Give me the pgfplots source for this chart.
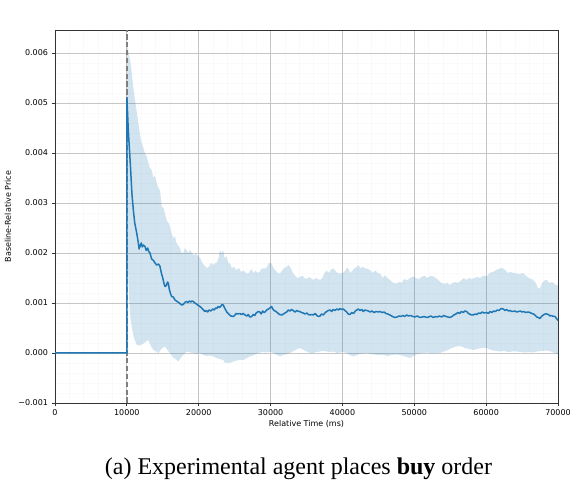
\documentclass[border=0pt]{standalone}
\usepackage{fontspec}
\setmainfont{Liberation Serif}
\newfontfamily\axisfont{DejaVu Sans}
\usepackage{pgfplots}
\pgfplotsset{compat=1.18}
\usepgfplotslibrary{fillbetween}

\definecolor{tabblue}{HTML}{1F77B4}
\definecolor{gridgray}{HTML}{C6C6C6}
\definecolor{markgray}{HTML}{7F7F7F}

\begin{document}
\begin{tikzpicture}
\begin{axis}[
    at={(0,0)}, anchor=south west,
    scale only axis,
    width=503pt, height=373pt,
    xmin=0, xmax=70000,
    ymin=-0.001, ymax=0.00646,
    xtick={0,10000,20000,30000,40000,50000,60000,70000},
    xticklabels={0,10000,20000,30000,40000,50000,60000,70000},
    ytick={-0.001,0,0.001,0.002,0.003,0.004,0.005,0.006},
    yticklabels={−0.001,0.000,0.001,0.002,0.003,0.004,0.005,0.006},
    minor x tick num=4, minor y tick num=4,
    scaled ticks=false,
    tick align=outside,
    xtick pos=bottom, ytick pos=left,
    major tick length=3.5pt, minor tick length=0pt,
    tick style={color=black!80, line width=0.8pt},
    axis line style={color=black!80, line width=0.8pt},
    grid=both,
    major grid style={color=gridgray, line width=0.9pt},
    minor grid style={color=black, draw opacity=0.02, line width=0.5pt},
    axis on top=false,
    /pgf/number format/assume math mode=true,
    tick label style={font=\axisfont\fontsize{8}{9}\selectfont},
    xlabel={Relative Time (ms)},
    ylabel={Baseline-Relative Price},
    every axis x label/.style={at={(axis description cs:0.5,-0.0563)},anchor=center,font=\axisfont\fontsize{8}{9}\selectfont},
    every axis y label/.style={at={(axis description cs:-0.0935,0.5)},rotate=90,anchor=center,font=\axisfont\fontsize{8}{9}\selectfont},
]

% upper edge of the band
\addplot[draw=none, name path=upper, forget plot] coordinates {
(10000,0.0062) (10150,0.0061) (10300,0.00595) (10450,0.00585) (10600,0.0057)
(10750,0.0055) (10900,0.0053) (11100,0.0051) (11300,0.0049) (11500,0.0047)
(11700,0.0045) (11900,0.0043) (12060,0.0042) (12300,0.0041) (12500,0.0040)
(12760,0.00393) (13000,0.0038) (13200,0.0037) (13450,0.00366) (13700,0.0035)
(13900,0.00355) (14150,0.0034) (14400,0.0033) (14610,0.00326) (14850,0.00293)
(15100,0.0029) (15300,0.0028) (15540,0.00265) (15800,0.0026) (16000,0.00253)
(16200,0.0024) (16460,0.0023) (16700,0.00233) (16900,0.0022) (17150,0.00215)
(17390,0.0021) (17630,0.0020) (17860,0.0020) (18100,0.0021) (18300,0.00205)
(18550,0.0020) (18790,0.00206) (19050,0.0020) (19300,0.00195) (19550,0.00198)
(19950,0.00194) (20200,0.0019) (20500,0.0018) (20800,0.00175) (21110,0.0017)
(21400,0.00172) (21700,0.0018) (22030,0.00176) (22300,0.0018) (22500,0.0018)
(22750,0.0019) (22960,0.00205) (23200,0.0020) (23420,0.00205) (23600,0.0019)
(23890,0.00193) (24100,0.0018) (24350,0.00179) (24600,0.0017) (24900,0.00172)
(25280,0.00166) (25600,0.0017) (25900,0.00162) (26200,0.00165) (26670,0.00159)
(27000,0.0016) (27300,0.00168) (27600,0.0016) (27900,0.00164) (28200,0.0016)
(28530,0.00163) (28800,0.0017) (29100,0.00168) (29500,0.00172) (29800,0.0018)
(30150,0.00179) (30400,0.0017) (30700,0.00165) (31000,0.0016) (31310,0.00159)
(31600,0.00165) (31900,0.0017) (32200,0.00172) (32470,0.00176) (32800,0.0017)
(33100,0.0016) (33400,0.00155) (33700,0.0015) (34090,0.00152) (34400,0.00155)
(34700,0.0015) (35000,0.00148) (35400,0.00152) (35950,0.00146) (36300,0.0015)
(36600,0.00148) (36880,0.00146) (37200,0.0015) (37500,0.0016) (37800,0.00165)
(38100,0.0016) (38500,0.00168) (38730,0.00169) (39000,0.00165) (39300,0.0016)
(39660,0.00159) (40000,0.0016) (40300,0.00163) (40600,0.0017) (40820,0.00169)
(41100,0.0016) (41400,0.00165) (41700,0.0017) (42000,0.00172) (42210,0.00176)
(42500,0.0017) (42800,0.00172) (43100,0.0017) (43500,0.00168) (43840,0.00166)
(44200,0.0016) (44600,0.00165) (44900,0.0016) (45230,0.00159) (45600,0.0015)
(45900,0.00155) (46300,0.0015) (46700,0.00145) (47100,0.0014) (47550,0.00139)
(47900,0.00142) (48200,0.0014) (48600,0.00148) (49000,0.00145) (49400,0.0015)
(49860,0.00153) (50200,0.0015) (50600,0.00148) (51000,0.00152) (51400,0.00155)
(51800,0.0015) (52200,0.00154) (52650,0.00153) (53000,0.0015) (53400,0.00145)
(53800,0.0014) (54200,0.00138) (54600,0.0014) (54970,0.00136) (55300,0.0014)
(55700,0.00142) (56100,0.0014) (56500,0.00145) (56900,0.0015) (57280,0.00146)
(57600,0.0015) (58000,0.00148) (58400,0.0015) (58800,0.00152) (59200,0.0015)
(59600,0.00155) (60070,0.00153) (60500,0.0016) (60900,0.00162) (61300,0.00165)
(61700,0.00168) (62100,0.0017) (62390,0.00169) (62700,0.00165) (63000,0.0016)
(63400,0.00162) (63800,0.0016) (64240,0.00159) (64700,0.00158) (65100,0.0016)
(65500,0.00155) (65900,0.0015) (66300,0.00148) (66560,0.00146) (66900,0.0014)
(67200,0.0013) (67490,0.00129) (67800,0.0014) (68100,0.00145) (68420,0.00146)
(68800,0.0014) (69200,0.00142) (69500,0.00138) (69820,0.00136) (70000,0.00134)
};

% lower edge of the band
\addplot[draw=none, name path=lower, forget plot] coordinates {
(10000,0.0045) (10100,0.0025) (10200,0.0015) (10350,0.0010) (10500,0.0007)
(10700,0.0005) (11000,0.0003) (11370,0.00016) (11800,0.00015) (12290,0.00019)
(12600,0.00022) (12990,0.00026) (13300,0.00015) (13680,0.00006) (14000,0.00004)
(14380,0.0) (14800,0.00008) (15310,0.00013) (15700,0.00005) (16100,-0.00002)
(16460,-0.0001) (16800,-0.00012) (17160,-0.00017) (17500,-0.0001) (17900,-0.00003)
(18320,0.00003) (18800,0.00001) (19250,0.0) (19700,-0.00002) (20100,0.0)
(20640,-0.00004) (21000,-0.00006) (21500,-0.00005) (22030,-0.00007) (22500,-0.0001)
(22900,-0.00012) (23420,-0.00014) (23660,-0.0002) (24000,-0.00019) (24350,-0.0002)
(24810,-0.00017) (25300,-0.00015) (25740,-0.00014) (26210,-0.00014) (26700,-0.0001)
(27140,-0.00007) (27700,-0.00004) (28300,0.0) (28800,0.00002) (29400,0.00001)
(29920,0.00003) (30400,0.0) (30900,-0.00004) (31310,-0.00007) (31800,-0.00004)
(32300,-0.00002) (32700,0.0) (33200,0.00004) (33700,0.00008) (34090,0.0001)
(34600,0.00006) (35030,0.00003) (35500,0.0) (35950,0.0) (36400,0.00002)
(36880,0.00003) (37400,0.00004) (37810,0.00003) (38300,0.00002) (38730,0.00003)
(39200,0.0) (39700,0.00001) (40100,0.00002) (40590,0.0) (41000,-0.00004)
(41520,-0.00007) (41900,-0.00005) (42400,-0.00002) (42900,-0.00001) (43370,0.0)
(43900,-0.00002) (44400,-0.00003) (44900,-0.00004) (45690,-0.00004) (46300,-0.00006)
(46800,-0.00004) (47300,-0.00003) (48010,-0.00004) (48500,-0.00006) (49000,-0.00008)
(49400,-0.0001) (49900,-0.00006) (50400,-0.00002) (51260,0.0) (51800,0.00001)
(52400,-0.00001) (53000,0.0) (53580,0.0) (54100,0.00003) (54700,0.00006)
(55200,0.0001) (55700,0.00012) (56100,0.00014) (56590,0.00013) (57000,0.0001)
(57600,0.00008) (58210,0.00006) (58700,0.00008) (59300,0.0001) (60070,0.0001)
(60500,0.00007) (61000,0.00005) (61930,0.00003) (62500,0.00004) (63100,0.00002)
(63600,0.00003) (64240,0.00003) (64800,0.00002) (65400,0.00001) (66000,0.00002)
(66560,0.00001) (67100,0.00003) (67700,0.00004) (68420,0.00005) (69000,0.00003)
(69500,0.0) (70000,-0.00002)
};

\addplot[fill=tabblue, fill opacity=0.2, draw=none, forget plot] fill between[of=upper and lower];

% order time marker
\addplot[color=markgray, line width=1.5pt, dash pattern=on 5.5pt off 2.4pt] coordinates {(10000,-0.001) (10000,0.00646)};

% mean
\addplot[color=tabblue, line width=1.5pt, line join=round] coordinates {
(0,0) (10000,0) (10000,0.0051) (10100,0.0048) (10200,0.00446) (10350,0.0041)
(10530,0.00366) (10700,0.0032) (10900,0.00286) (11100,0.0026) (11370,0.0024)
(11600,0.0022) (11700,0.00208) (11830,0.00213) (12000,0.0022) (12150,0.00212)
(12300,0.00216) (12520,0.00213) (12700,0.00205) (12900,0.0021) (13050,0.00203)
(13220,0.0020) (13450,0.00188) (13700,0.00185) (13920,0.0018) (14150,0.00176)
(14400,0.00178) (14610,0.00173) (14800,0.0016) (15000,0.0015) (15150,0.0014)
(15310,0.00133) (15500,0.00135) (15650,0.00142) (15770,0.0014) (15900,0.00128)
(16050,0.0012) (16230,0.00113) (16460,0.00112) (16700,0.00106) (16900,0.00104)
(17100,0.00102) (17300,0.001) (17630,0.00096) (17850,0.00097) (18000,0.001)
(18150,0.00102) (18320,0.00103) (18500,0.00101) (18700,0.00104) (18900,0.00102)
(19050,0.00104) (19250,0.00103) (19450,0.001) (19700,0.00098) (19950,0.00095)
(20180,0.00093) (20400,0.0009) (20600,0.00087) (20870,0.00083) (21050,0.00085)
(21250,0.00082) (21450,0.00086) (21700,0.00084) (21950,0.00088) (22150,0.00086)
(22350,0.0009) (22500,0.00089) (22700,0.00093) (22900,0.00091) (23100,0.00094)
(23250,0.00097) (23420,0.00096) (23600,0.0009) (23800,0.00085) (23950,0.00081)
(24120,0.00079) (24300,0.00076) (24500,0.00074) (24810,0.00073) (25000,0.00075)
(25200,0.00079) (25450,0.00078) (25740,0.00079) (25950,0.00077) (26200,0.00079)
(26450,0.00076) (26700,0.00074) (26900,0.00077) (27100,0.00072) (27370,0.00073)
(27600,0.00077) (27800,0.00075) (28000,0.0008) (28300,0.00083) (28500,0.00082)
(28700,0.00078) (28900,0.00084) (29100,0.00081) (29300,0.00083) (29460,0.00086)
(29700,0.00088) (29900,0.0009) (30150,0.00093) (30300,0.00088) (30500,0.00085)
(30750,0.00083) (31000,0.0008) (31250,0.00077) (31550,0.00076) (31800,0.00078)
(32000,0.0008) (32250,0.00082) (32470,0.00086) (32700,0.00084) (32900,0.00087)
(33150,0.00085) (33400,0.00082) (33650,0.00085) (33850,0.00083) (34090,0.00083)
(34300,0.00081) (34550,0.0008) (34800,0.00078) (35050,0.0008) (35250,0.00077)
(35490,0.00076) (35700,0.00077) (35950,0.00076) (36200,0.00079) (36450,0.00075)
(36650,0.00073) (36880,0.00074) (37100,0.00078) (37350,0.00076) (37550,0.0008)
(37800,0.00083) (38050,0.00085) (38270,0.00086) (38500,0.00083) (38700,0.00087)
(38950,0.00085) (39200,0.00088) (39450,0.00086) (39650,0.00089) (39890,0.00087)
(40120,0.00088) (40350,0.00085) (40600,0.00082) (40800,0.00078) (41050,0.00077)
(41300,0.00081) (41550,0.00079) (41800,0.00084) (42000,0.00086) (42210,0.00088)
(42450,0.00085) (42700,0.00087) (42900,0.00083) (43150,0.00086) (43370,0.00085)
(43600,0.00084) (43850,0.00082) (44100,0.00084) (44400,0.00081) (44700,0.00083)
(45000,0.00082) (45230,0.00083) (45500,0.00081) (45800,0.00082) (46050,0.00079)
(46300,0.00078) (46600,0.00076) (46850,0.00074) (47100,0.00072) (47310,0.00071)
(47600,0.00072) (47850,0.00074) (48100,0.00073) (48400,0.00075) (48650,0.00073)
(48930,0.00076) (49200,0.00074) (49500,0.00075) (49800,0.00073) (50100,0.00072)
(50400,0.00074) (50790,0.00071) (51100,0.00072) (51400,0.00073) (51700,0.00071)
(52000,0.00072) (52300,0.00074) (52650,0.00071) (52950,0.00073) (53200,0.00072)
(53500,0.00074) (53800,0.00072) (54100,0.00075) (54400,0.00073) (54700,0.00072)
(54970,0.00071) (55250,0.00073) (55500,0.00076) (55800,0.00078) (56050,0.00081)
(56300,0.00079) (56550,0.00083) (56800,0.00081) (57050,0.00084) (57280,0.00083)
(57550,0.00079) (57800,0.00077) (58000,0.00076) (58210,0.00076) (58450,0.00078)
(58700,0.00077) (58950,0.0008) (59200,0.00079) (59450,0.00082) (59700,0.0008)
(60070,0.00081) (60300,0.00079) (60550,0.00083) (60800,0.00081) (61050,0.00084)
(61300,0.00083) (61550,0.00086) (61800,0.00085) (62100,0.00089) (62390,0.00088)
(62600,0.00085) (62850,0.00087) (63100,0.00084) (63350,0.00085) (63550,0.00083)
(63780,0.00083) (64000,0.00084) (64250,0.00082) (64500,0.00083) (64750,0.00084)
(65000,0.00082) (65250,0.00083) (65500,0.00081) (65800,0.00082) (66100,0.00081)
(66350,0.00079) (66600,0.00078) (66850,0.00075) (67050,0.00072) (67250,0.00071)
(67490,0.00069) (67700,0.00073) (67950,0.00076) (68200,0.00078) (68420,0.00078)
(68650,0.00077) (68900,0.00074) (69100,0.00075) (69350,0.00073) (69580,0.00073)
(69800,0.00069) (70000,0.00065)
};
\end{axis}
\node[font=\rmfamily\fontsize{24}{28}\selectfont] at (243.5pt,-66pt) {(a) Experimental agent places \textbf{buy} order};
\path (-55pt,-100pt) rectangle (524pt,403pt);
\end{tikzpicture}
\end{document}
